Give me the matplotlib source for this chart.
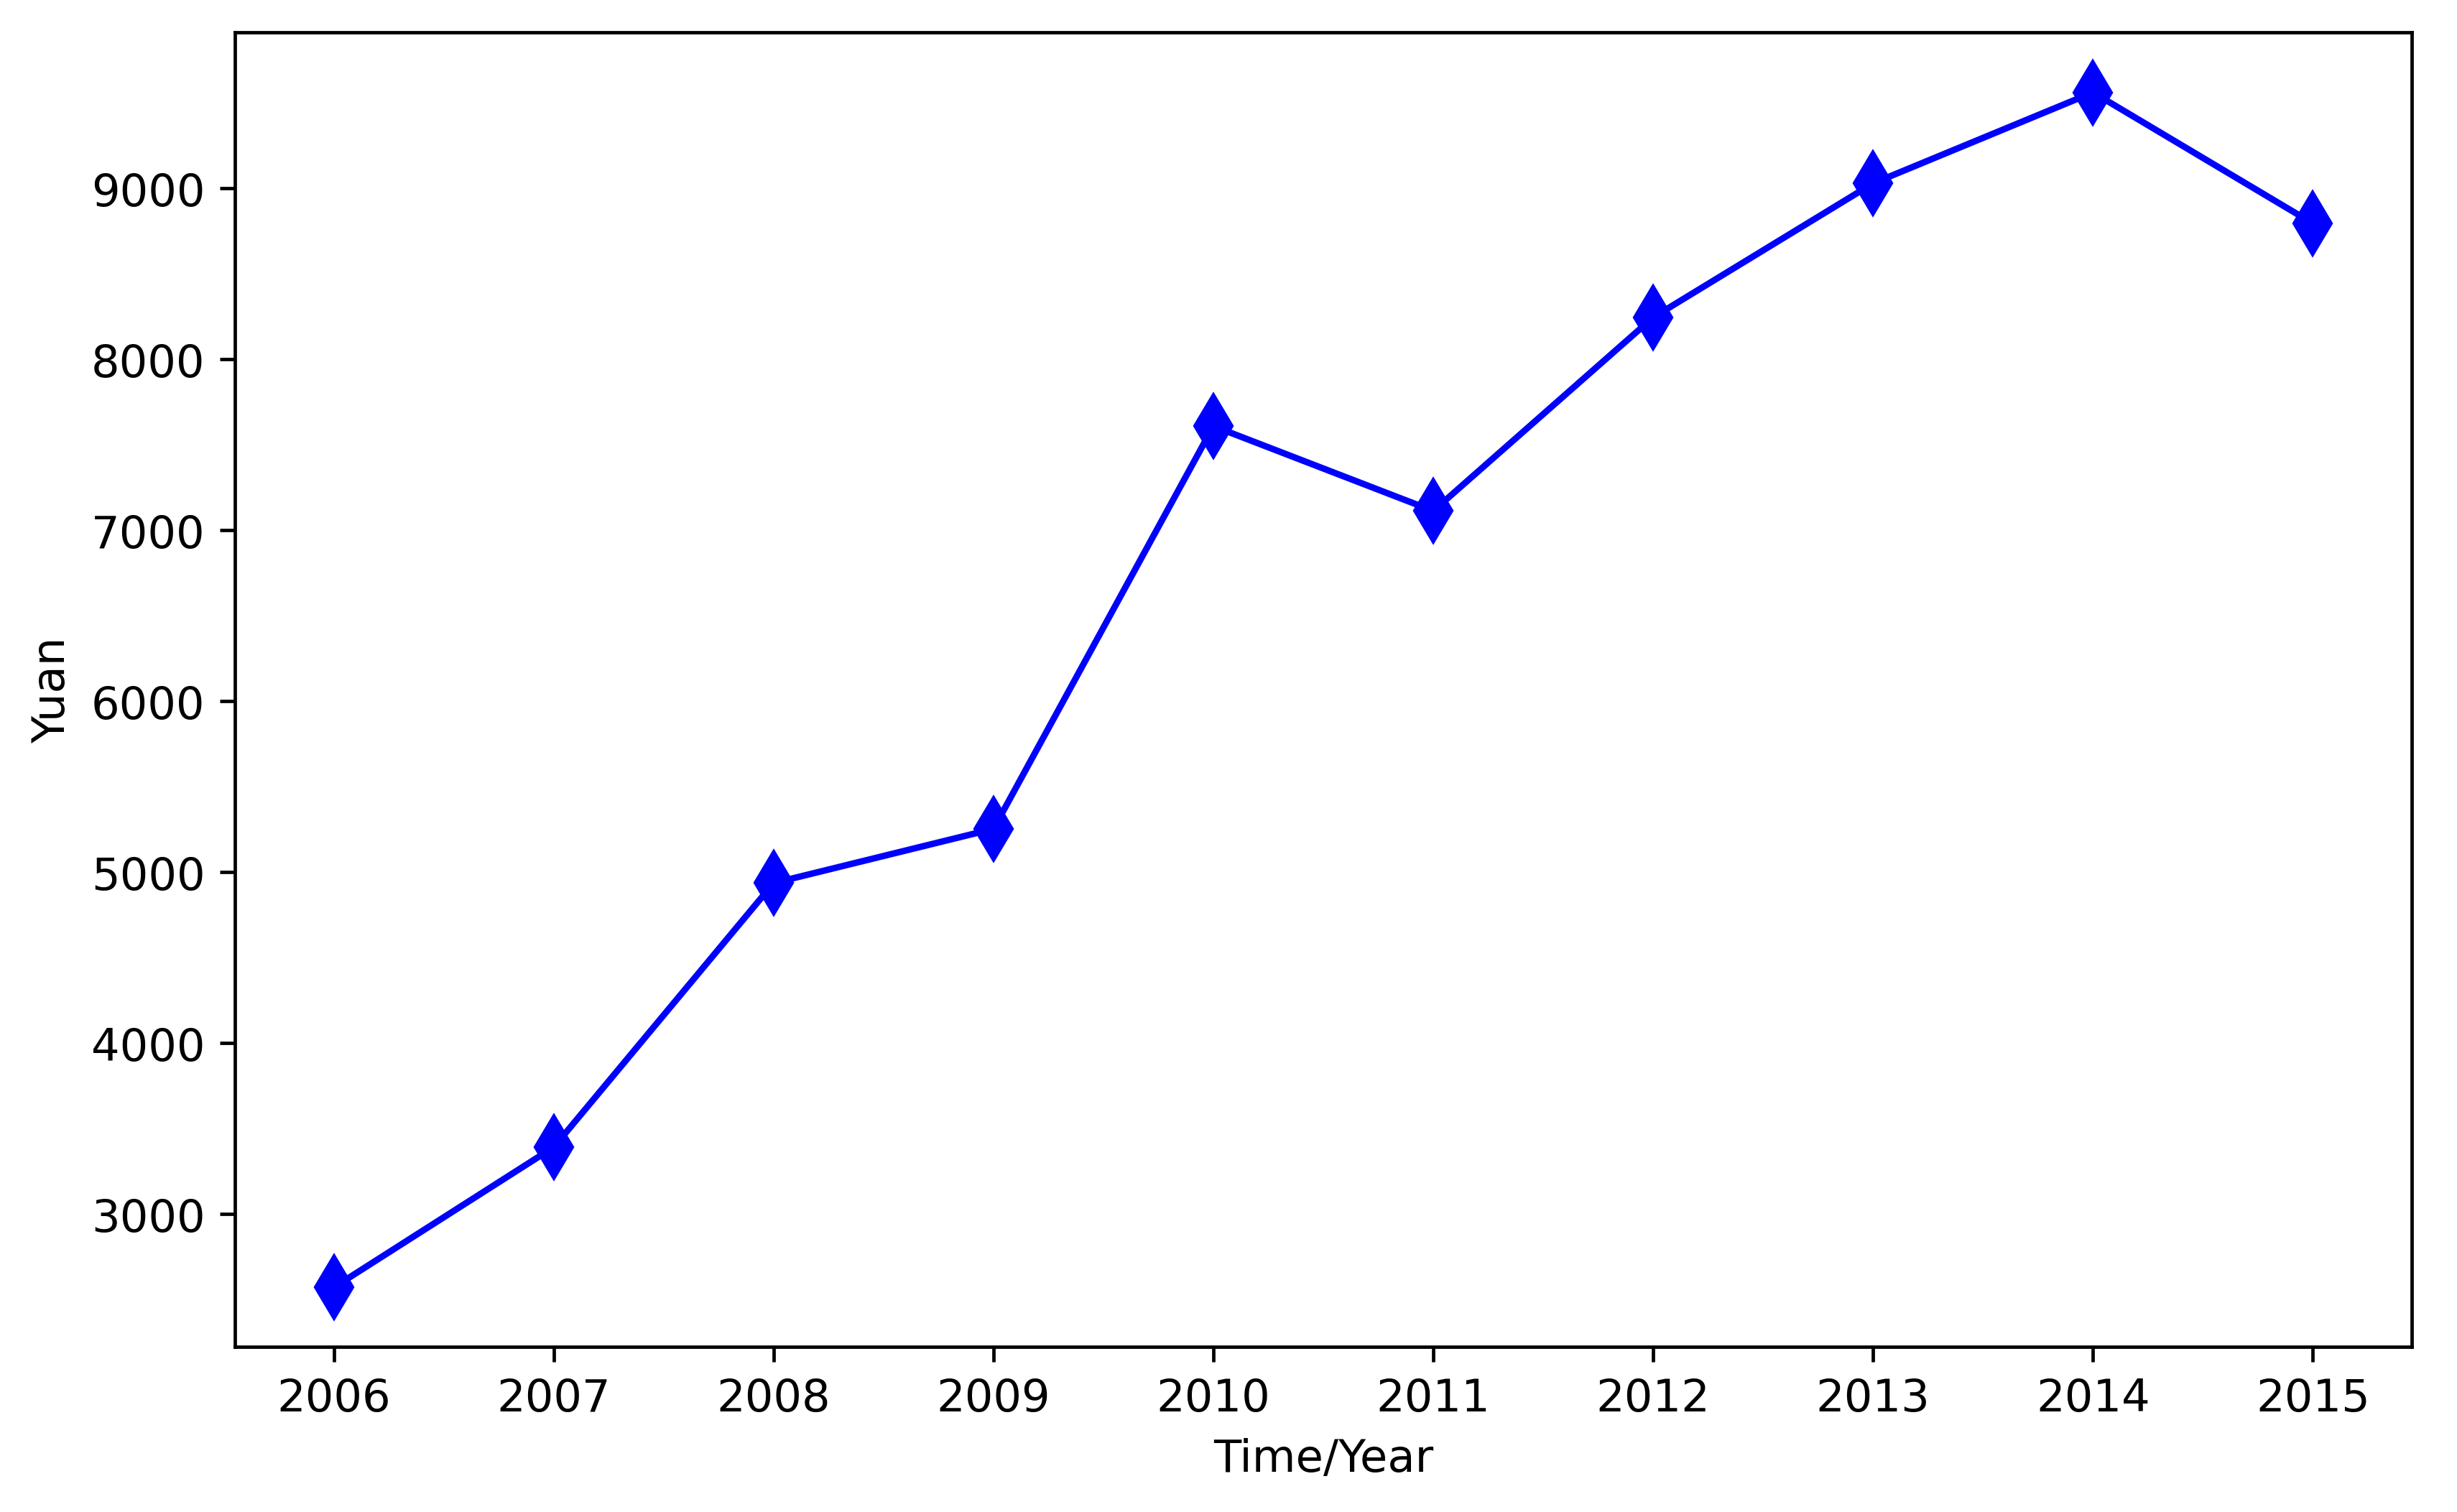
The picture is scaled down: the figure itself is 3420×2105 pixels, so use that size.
import matplotlib
matplotlib.use("Agg")
import matplotlib.pyplot as plt

years = [2006, 2007, 2008, 2009, 2010, 2011, 2012, 2013, 2014, 2015]
yuan = [2571, 3391, 4936, 5253, 7609, 7113, 8245, 9029, 9561, 8795]

plt.rcParams['font.family'] = ['DejaVu Sans']
plt.rcParams['font.size'] = 10.5

fig = plt.figure(figsize=(8, 4.926), dpi=427.5)
ax = fig.add_axes([0.0956, 0.109, 0.886, 0.869])
ax.plot(years, yuan, color='b', marker='d', markersize=10, linewidth=1.5)
ax.set_xticks(years)
ax.set_xlabel("Time/Year")
ax.set_ylabel("Yuan")

fig.savefig("out.png", dpi=427.5)
